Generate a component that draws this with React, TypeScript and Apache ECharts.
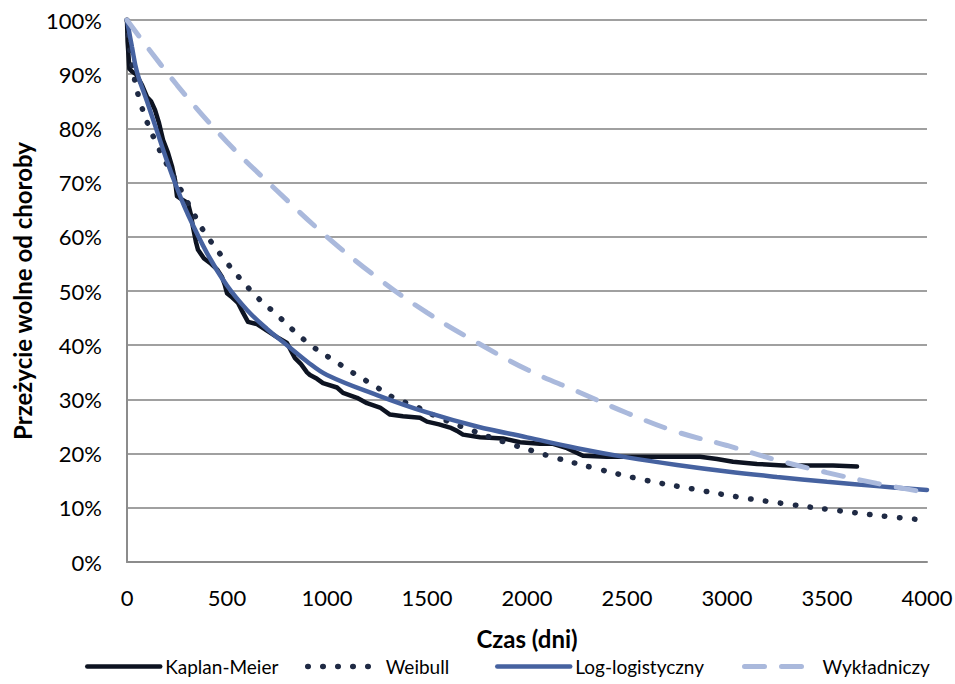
import React, { useEffect, useRef } from "react";
import * as echarts from "echarts";

const kmTime = [0, 3, 12, 25, 45, 60, 75, 100, 120, 140, 160, 180, 205, 225, 240, 250, 270, 305, 320, 330, 345, 355, 385, 415, 450, 475, 490, 500, 520, 555, 580, 605, 650, 700, 750, 800, 820, 840, 870, 900, 915, 950, 980, 1050, 1080, 1150, 1200, 1265, 1315, 1380, 1465, 1500, 1560, 1615, 1650, 1680, 1765, 1880, 1965, 2065, 2130, 2200, 2280, 2400, 2530, 2700, 2865, 2950, 3030, 3150, 3280, 3530, 3650];
const kmSurv = [100, 96, 91, 90.5, 90, 89, 88, 85.8, 85, 83.4, 81, 77.9, 75.5, 73, 70.5, 67.5, 67, 66.2, 64, 61.8, 59, 57.6, 56, 55.2, 54, 52.6, 51, 49.6, 49, 47.8, 46, 44.3, 43.9, 42.7, 41.5, 40.4, 39, 37.6, 36.5, 35, 34.5, 33.8, 33, 32.2, 31.2, 30.3, 29.3, 28.5, 27.2, 26.9, 26.6, 25.9, 25.4, 24.8, 24.2, 23.5, 23, 22.8, 22.1, 21.8, 21.8, 21, 19.6, 19.4, 19.4, 19.4, 19.4, 19, 18.5, 18.1, 17.8, 17.8, 17.6];

const weibullTime = [0, 20, 65, 150, 275, 330, 390, 500, 580, 655, 750, 830, 930, 1030, 1130, 1230, 1330, 1450, 1550, 1715, 1890, 2055, 2125, 2350, 2590, 2825, 3055, 3300, 3530, 3775, 4000];
const weibullSurv = [100, 93, 85, 77, 68.3, 64.5, 60.7, 55.2, 51.7, 48.7, 45.6, 42.8, 39.7, 37.3, 34.9, 32.7, 30.4, 28.6, 26.8, 24.4, 22.1, 20.2, 19.4, 17.2, 15.1, 13.5, 12, 10.7, 9.6, 8.5, 7.7];

const loglogTime = [0, 25, 50, 100, 150, 200, 250, 300, 400, 500, 600, 700, 800, 900, 1000, 1250, 1500, 1750, 2000, 2250, 2500, 2750, 3000, 3250, 3500, 3750, 4000];
const loglogSurv = [100, 95, 90.4, 85, 79.5, 74, 69, 64.5, 57, 51, 46.5, 43, 40, 37, 34.5, 30.8, 27.6, 25, 23, 21, 19.3, 17.9, 16.7, 15.7, 14.8, 14, 13.3];

const expTime = [0, 250, 500, 750, 1000, 1250, 1500, 1750, 2000, 2250, 2500, 2750, 3000, 3250, 3500, 3750, 4000];
const expSurv = [100, 88, 77.5, 68.5, 60, 52.5, 46, 40.5, 35.5, 31.5, 27.5, 24, 21.5, 18.8, 16.5, 14.5, 12.8];

const seriesNames = ["Kaplan-Meier", "Weibull", "Log-logistyczny", "Wykładniczy"];
const xTitle = "Czas (dni)";
const yTitle = "Przeżycie wolne od choroby";

const pairs = (t: number[], s: number[]) => t.map((v, i) => [v, s[i]]);

export default function App() {
  const ref = useRef<HTMLDivElement>(null);
  useEffect(() => {
    if (!ref.current) return;
    const chart = echarts.init(ref.current, null, { renderer: "svg" });
    const font = "Lato, 'Open Sans', sans-serif";
    const legendBase = {
      top: 652,
      itemWidth: 73,
      itemHeight: 14,
      textStyle: { fontFamily: font, fontSize: 19, color: "#000" },
      lineStyle: { width: "inherit" },
      itemStyle: { opacity: 0 },
      selectedMode: false,
    };
    chart.setOption({
      animation: false,
      backgroundColor: "#fff",
      grid: { left: 127, right: 28, top: 20, bottom: 122, outerBoundsMode: "none", containLabel: false },
      legend: [
        { ...legendBase, left: 80, data: [seriesNames[0]] },
        { ...legendBase, left: 300, data: [seriesNames[1]] },
        { ...legendBase, left: 490, data: [seriesNames[2]] },
        { ...legendBase, left: 737, data: [seriesNames[3]] },
      ],
      xAxis: {
        type: "value",
        min: 0,
        max: 4000,
        interval: 500,
        name: xTitle,
        nameLocation: "middle",
        nameGap: 64,
        nameTextStyle: { fontFamily: font, fontSize: 24, fontWeight: "bold", color: "#000" },
        axisLine: { show: true, lineStyle: { color: "#8c8c8c", width: 2 } },
        axisTick: { show: false },
        axisLabel: { fontFamily: font, fontSize: 22, color: "#000", margin: 24, formatter: (v: number) => String(v) },
        splitLine: { show: false },
      },
      yAxis: {
        type: "value",
        min: 0,
        max: 100,
        interval: 10,
        name: yTitle,
        nameLocation: "middle",
        nameGap: 93,
        nameRotate: 90,
        nameTextStyle: { fontFamily: font, fontSize: 24, fontWeight: "bold", color: "#000" },
        axisLine: { show: true, lineStyle: { color: "#8c8c8c", width: 2 } },
        axisTick: { show: false },
        axisLabel: { fontFamily: font, fontSize: 22, color: "#000", margin: 25, formatter: "{value}%" },
        splitLine: { show: true, lineStyle: { color: "#a0a0a0", width: 2 } },
      },
      series: [
        {
          name: seriesNames[0],
          type: "line",
          data: pairs(kmTime, kmSurv),
          showSymbol: false,
          symbol: "none",
          smooth: false,
          color: "#0d1321",
          lineStyle: { color: "#0d1321", width: 4.5, cap: "round", join: "round" },
        },
        {
          name: seriesNames[1],
          type: "line",
          data: pairs(weibullTime, weibullSurv),
          showSymbol: false,
          symbol: "none",
          smooth: 0.4,
          color: "#1f2a44",
          lineStyle: { color: "#1f2a44", width: 5.5, type: [0.5, 14.5], cap: "round" },
        },
        {
          name: seriesNames[2],
          type: "line",
          data: pairs(loglogTime, loglogSurv),
          showSymbol: false,
          symbol: "none",
          smooth: 0.4,
          color: "#4662a0",
          lineStyle: { color: "#4662a0", width: 4.5, cap: "round" },
        },
        {
          name: seriesNames[3],
          type: "line",
          data: pairs(expTime, expSurv),
          showSymbol: false,
          symbol: "none",
          smooth: 0.4,
          color: "#aab9dc",
          lineStyle: { color: "#aab9dc", width: 5, type: [20, 17], cap: "round" },
        },
      ],
    });
    return () => chart.dispose();
  }, []);
  return <div ref={ref} style={{ width: 955, height: 684, position: "absolute", left: 0, top: 0 }} />;
}
